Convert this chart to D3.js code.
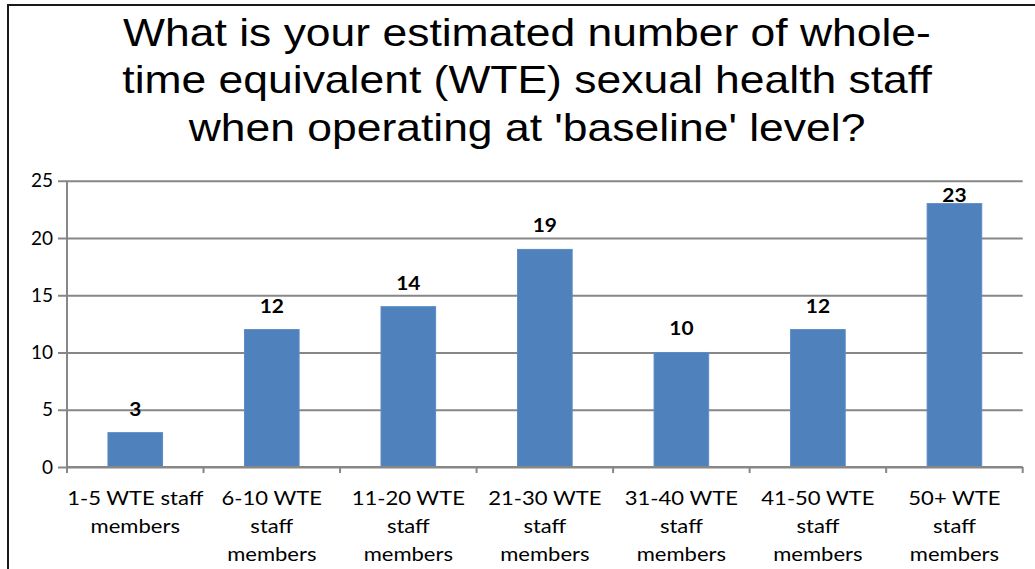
<!DOCTYPE html>
<html>
<head>
<meta charset="utf-8">
<script src="https://cdn.jsdelivr.net/npm/d3@7"></script>
<style>
  html, body { margin: 0; padding: 0; background: #fff; }
  svg { display: block; }
</style>
</head>
<body>
<svg id="chart" width="1035" height="569"></svg>
<script>
// Staff band categories (as they wrap under the axis) and respondent counts
const categories = ["1-5", "6-10", "11-20", "21-30", "31-40", "41-50", "50+"];
const categoryLines = [
  ["1-5 WTE staff", "members"],
  ["6-10 WTE", "staff", "members"],
  ["11-20 WTE", "staff", "members"],
  ["21-30 WTE", "staff", "members"],
  ["31-40 WTE", "staff", "members"],
  ["41-50 WTE", "staff", "members"],
  ["50+ WTE", "staff", "members"]
];
const counts = [3, 12, 14, 19, 10, 12, 23];
const yTicks = [0, 5, 10, 15, 20, 25];
const titleLines = [
  "What is your estimated number of whole-",
  "time equivalent (WTE) sexual health staff",
  "when operating at 'baseline' level?"
];

const svg = d3.select("#chart");
const W = 1035, H = 569;
const plot = { left: 67, right: 1022.7, top: 180.7, bottom: 467 };
const labelFont = "Lato, 'Open Sans', 'DejaVu Sans', sans-serif";
const axisGrey = "#878787";

// Outer chart frame (runs past the right and bottom edges)
svg.append("rect")
  .attr("x", 8).attr("y", 5)
  .attr("width", W + 20).attr("height", H + 20)
  .attr("fill", "#fff")
  .attr("stroke", "#1a1a1a")
  .attr("stroke-width", 2);

// Title, set in a wide face
svg.append("g")
  .selectAll("text")
  .data(titleLines)
  .join("text")
  .attr("transform", (d, i) => `translate(527,${45.7 + i * 47.6}) scale(1.17,1)`)
  .attr("text-anchor", "middle")
  .attr("font-family", "'Liberation Sans', Arial, sans-serif")
  .attr("font-size", 38)
  .attr("fill", "#000")
  .text(d => d);

const x = d3.scaleBand()
  .domain(categories)
  .range([plot.left, plot.right])
  .paddingInner(0.6)
  .paddingOuter(0.3);

const y = d3.scaleLinear()
  .domain([0, 25])
  .range([plot.bottom, plot.top]);

// Horizontal gridlines with short tick marks left of the axis
const yAxis = d3.axisLeft(y)
  .tickValues(yTicks)
  .tickSize(-(plot.right - plot.left))
  .tickPadding(14)
  .tickFormat(d3.format("d"));

const gy = svg.append("g")
  .attr("transform", `translate(${plot.left},0)`)
  .call(yAxis);
gy.select(".domain").remove();
gy.selectAll(".tick line")
  .attr("x1", -9)
  .attr("stroke", axisGrey)
  .attr("stroke-width", 2);
gy.selectAll(".tick text")
  .attr("font-family", labelFont)
  .attr("font-size", 19)
  .attr("fill", "#000");

// Vertical axis line
svg.append("line")
  .attr("x1", plot.left).attr("x2", plot.left)
  .attr("y1", plot.top).attr("y2", plot.bottom)
  .attr("stroke", axisGrey)
  .attr("stroke-width", 2);

// Bars
svg.append("g")
  .selectAll("rect")
  .data(counts)
  .join("rect")
  .attr("x", (d, i) => x(categories[i]))
  .attr("y", d => y(d))
  .attr("width", x.bandwidth())
  .attr("height", d => y(0) - y(d))
  .attr("fill", "#4F81BD")
  .attr("stroke", "#5B8CC6")
  .attr("stroke-width", 1);

// Category axis: baseline plus tick marks at band boundaries
const boundaries = d3.range(categories.length + 1)
  .map(i => plot.left + i * x.step());
const gx = svg.append("g");
gx.append("line")
  .attr("x1", plot.left).attr("x2", plot.right)
  .attr("y1", plot.bottom).attr("y2", plot.bottom)
  .attr("stroke", axisGrey)
  .attr("stroke-width", 2);
gx.selectAll("line.tk")
  .data(boundaries)
  .join("line")
  .attr("class", "tk")
  .attr("x1", d => d).attr("x2", d => d)
  .attr("y1", plot.bottom).attr("y2", plot.bottom + 6)
  .attr("stroke", axisGrey)
  .attr("stroke-width", 2);

// Category labels
gx.selectAll("text.cat")
  .data(categories)
  .join("text")
  .attr("class", "cat")
  .attr("text-anchor", "middle")
  .attr("font-family", labelFont)
  .attr("font-size", 19)
  .attr("fill", "#000")
  .attr("transform", d => `translate(${x(d) + x.bandwidth() / 2},0) scale(1.16,1)`)
  .selectAll("tspan")
  .data((d, i) => categoryLines[i])
  .join("tspan")
  .attr("x", 0)
  .attr("y", (l, i) => 505 + i * 28)
  .text(l => l);

// Value labels above each bar, kept inside the plot area
svg.append("g")
  .selectAll("text")
  .data(counts)
  .join("text")
  .attr("transform", (d, i) =>
    `translate(${x(categories[i]) + x.bandwidth() / 2},${Math.max(y(d) - 17, plot.top + 21)}) scale(1.1,1)`)
  .attr("text-anchor", "middle")
  .attr("font-family", labelFont)
  .attr("font-weight", "bold")
  .attr("font-size", 19)
  .attr("fill", "#000")
  .text(d => d);
</script>
</body>
</html>
